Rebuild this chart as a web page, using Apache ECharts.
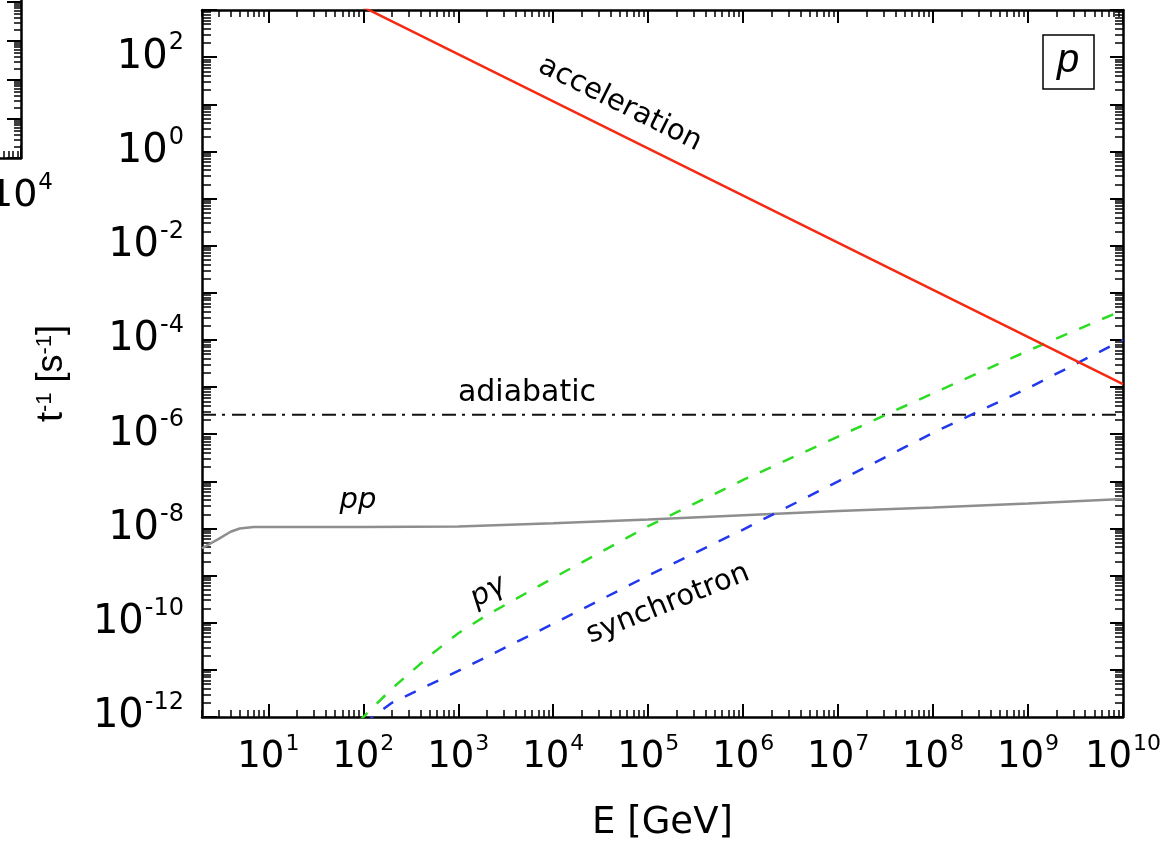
<!DOCTYPE html>
<html>
<head>
<meta charset="UTF-8">
<title>loss rates p</title>
<script src="https://cdn.jsdelivr.net/npm/echarts@6/dist/echarts.min.js"></script>
<style>
  html, body { margin: 0; padding: 0; background: #fff; }
  #chart { width: 1165px; height: 845px; }
</style>
</head>
<body>
<div id="chart"></div>
<script>
// values (E in GeV, rate in s^-1)
const accelE = [2, 1e2, 1e4, 1e6, 1e8, 1e10];
const accelRate = [5.75e4, 1.15e3, 11.5, 0.115, 1.15e-3, 1.15e-5];

const adiabE = [2, 1e10];
const adiabRate = [2.6e-6, 2.6e-6];

const ppE = [2, 3, 4, 5, 7, 10, 1e2, 1e3, 1e4, 1e5, 1e6, 1e7, 1e8, 1e9, 1e10];
const ppRate = [3.8e-9, 6.0e-9, 8.5e-9, 1.0e-8, 1.07e-8, 1.07e-8, 1.07e-8, 1.1e-8, 1.29e-8,
  1.55e-8, 1.9e-8, 2.34e-8, 2.8e-8, 3.4e-8, 4.2e-8];

const pgE = [90, 200, 500, 1e3, 2e3, 1e4, 1e5, 1e6, 1e7, 1e8, 1e9, 1e10];
const pgRate = [8.1e-13, 4.0e-12, 2.0e-11, 6.0e-11, 1.45e-10, 8.9e-10, 1.12e-8, 1.07e-7,
  8.9e-7, 7.4e-6, 5.9e-5, 4.3e-4];

const synE = [100, 200, 1e3, 1e4, 1e5, 1e6, 1e7, 1e8, 1e9, 1e10];
const synRate = [7.1e-13, 2.0e-12, 9.5e-12, 9.5e-11, 1.0e-9, 9.5e-9, 1.0e-7, 1.07e-6, 9.5e-6, 1.0e-4];

// tick labels
const xLabelVals = [1e1, 1e2, 1e3, 1e4, 1e5, 1e6, 1e7, 1e8, 1e9, 1e10];
const yLabelVals = [1e-12, 1e-10, 1e-8, 1e-6, 1e-4, 1e-2, 1, 1e2];
const sideXLabelVals = [1e4];

function decades(from, to) {
  const out = [];
  for (let d = from; d <= to; d++) out.push(Math.pow(10, d));
  return out;
}
function minors(from, to) {
  const out = [];
  for (let d = from; d <= to; d++) {
    for (let k = 2; k <= 9; k++) out.push(k * Math.pow(10, d));
  }
  return out;
}
function pairs(xs, ys) {
  return xs.map(function (x, i) { return [x, ys[i]]; });
}

const FONT = 'Liberation Sans, Arial, sans-serif';
const WIDE = 'DejaVu Sans, sans-serif';
const black = '#000';

function powLabel(size, sup) {
  return {
    formatter: function (v) {
      return '{b|10}{s|' + Math.round(Math.log10(v)) + '}';
    },
    rich: {
      b: { fontSize: size, fontFamily: WIDE, color: black, lineHeight: Math.round(size * 1.3) },
      s: { fontSize: sup, fontFamily: WIDE, color: black, verticalAlign: 'top', lineHeight: sup + 2, padding: [0, 0, 0, 1] }
    }
  };
}

function logAxis(opt) {
  const a = {
    type: 'log',
    logBase: 10,
    gridIndex: opt.grid || 0,
    position: opt.pos,
    min: opt.min,
    max: opt.max,
    splitLine: { show: false },
    axisLine: { show: opt.line !== false, onZero: false, lineStyle: { color: black, width: 2.5 } },
    axisTick: {
      show: true, inside: true, length: opt.len,
      customValues: opt.ticks,
      lineStyle: { color: black, width: opt.line === false ? 1.5 : 2 }
    },
    axisLabel: { show: false }
  };
  if (opt.labels) {
    a.axisLabel = Object.assign({ show: true, customValues: opt.labels, margin: opt.margin }, powLabel(opt.size, opt.sup));
  }
  return a;
}

const chart = echarts.init(document.getElementById('chart'), null, { renderer: 'canvas' });

const xAxes = [
  Object.assign(logAxis({ pos: 'bottom', min: 2, max: 1e10, len: 13, ticks: decades(1, 10),
    labels: xLabelVals, margin: 16, size: 37, sup: 22 }), {
    name: 'E [GeV]', nameLocation: 'middle', nameGap: 88,
    nameTextStyle: { fontSize: 37, fontFamily: WIDE, color: black }
  }),
  logAxis({ pos: 'bottom', min: 2, max: 1e10, len: 7, ticks: minors(0, 9), line: false }),
  logAxis({ pos: 'top', min: 2, max: 1e10, len: 13, ticks: decades(1, 10) }),
  logAxis({ pos: 'top', min: 2, max: 1e10, len: 7, ticks: minors(0, 9), line: false }),
  // neighbouring panel, mostly outside the picture
  logAxis({ grid: 1, pos: 'bottom', min: 1, max: 1e4, len: 13, ticks: decades(0, 4),
    labels: sideXLabelVals, margin: 14, size: 38, sup: 23 }),
  logAxis({ grid: 1, pos: 'bottom', min: 1, max: 1e4, len: 7, ticks: minors(0, 3), line: false })
];

const yAxes = [
  Object.assign(logAxis({ pos: 'left', min: 1e-12, max: 1e3, len: 15, ticks: decades(-12, 3),
    labels: yLabelVals, margin: 18, size: 40, sup: 24 }), {
    name: 't{s|-1} [s{s|-1}]', nameLocation: 'middle', nameGap: 132, nameRotate: 90,
    nameTextStyle: {
      fontSize: 36, fontFamily: FONT, color: black, padding: [0, 20, 0, 0],
      rich: { s: { fontSize: 22, fontFamily: FONT, color: black, verticalAlign: 'top' } }
    }
  }),
  logAxis({ pos: 'left', min: 1e-12, max: 1e3, len: 9, ticks: minors(-12, 2), line: false }),
  logAxis({ pos: 'right', min: 1e-12, max: 1e3, len: 13, ticks: decades(-12, 3) }),
  logAxis({ pos: 'right', min: 1e-12, max: 1e3, len: 8, ticks: minors(-12, 2), line: false }),
  logAxis({ grid: 1, pos: 'right', min: 1, max: 1e5, len: 14, ticks: decades(0, 5) }),
  logAxis({ grid: 1, pos: 'right', min: 1, max: 1e5, len: 7, ticks: minors(0, 4), line: false })
];

function lineSeries(name, xs, ys, color, width, type) {
  return {
    name: name,
    type: 'line',
    xAxisIndex: 0,
    yAxisIndex: 0,
    data: pairs(xs, ys),
    showSymbol: false,
    symbol: 'none',
    clip: true,
    smooth: false,
    lineStyle: { color: color, width: width, type: type || 'solid' },
    silent: true
  };
}

const option = {
  backgroundColor: '#fff',
  animation: false,
  grid: [
    { left: 202, right: 42, top: 10, bottom: 128, containLabel: false, outerBoundsMode: 'none' },
    { left: -299, right: 1144, top: -37, bottom: 687, containLabel: false, outerBoundsMode: 'none' }
  ],
  xAxis: xAxes,
  yAxis: yAxes,
  series: [
    lineSeries('pp', ppE, ppRate, '#8e8e8e', 2.5),
    lineSeries('adiabatic', adiabE, adiabRate, '#111', 2, [14, 6, 3, 7]),
    lineSeries('synchrotron', synE, synRate, '#2238ee', 2.5, [12, 13]),
    lineSeries('pgamma', pgE, pgRate, '#2bdc22', 2.5, [12, 13]),
    lineSeries('acceleration', accelE, accelRate, '#f62a12', 2.5)
  ],
  graphic: [
    { type: 'text', x: 620, y: 104, rotation: -0.465,
      style: { text: 'acceleration', font: '29px ' + WIDE, fill: black, align: 'center', verticalAlign: 'middle' } },
    { type: 'text', x: 527, y: 393,
      style: { text: 'adiabatic', font: '30px ' + WIDE, fill: black, align: 'center', verticalAlign: 'middle' } },
    { type: 'text', x: 358, y: 500,
      style: { text: 'pp', font: 'oblique 29px ' + WIDE, fill: black, align: 'center', verticalAlign: 'middle' } },
    { type: 'text', x: 488, y: 592, rotation: 0.5,
      style: { text: 'pγ', font: 'oblique 29px ' + WIDE, fill: black, align: 'center', verticalAlign: 'middle' } },
    { type: 'text', x: 668, y: 604, rotation: 0.38,
      style: { text: 'synchrotron', font: '29px ' + WIDE, fill: black, align: 'center', verticalAlign: 'middle' } },
    { type: 'rect', shape: { x: 1043, y: 35, width: 51, height: 54 },
      style: { fill: 'none', stroke: black, lineWidth: 1.5 } },
    { type: 'text', x: 1068, y: 61,
      style: { text: 'p', font: 'italic 40px ' + FONT, fill: black, align: 'center', verticalAlign: 'middle' } }
  ]
};

chart.setOption(option);
</script>
</body>
</html>
